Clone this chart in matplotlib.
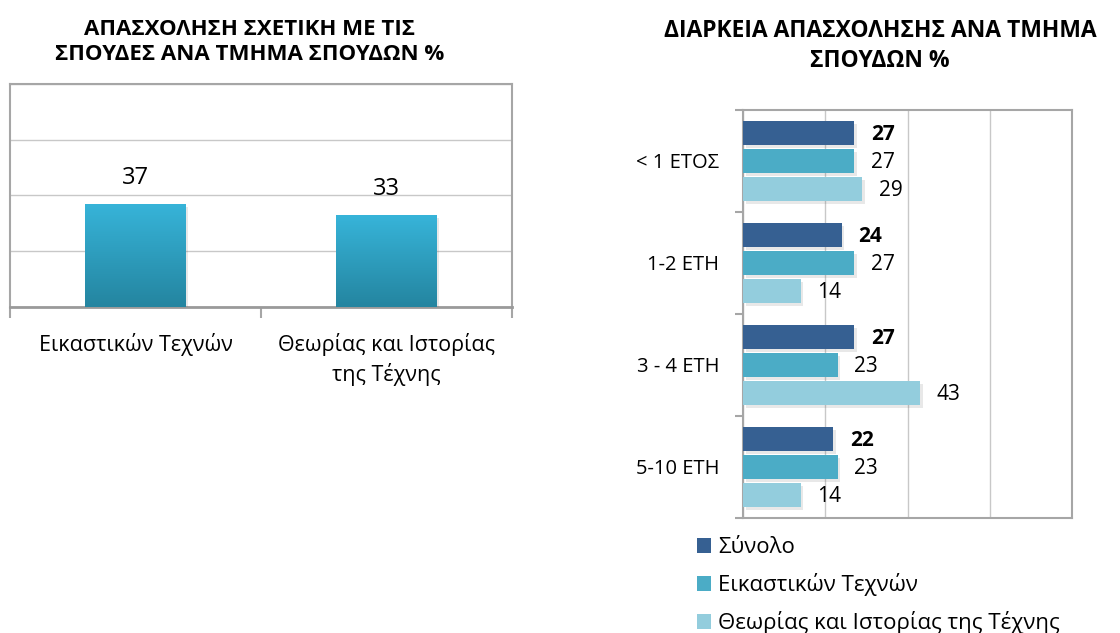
import matplotlib
matplotlib.use("Agg")
import matplotlib.pyplot as plt
import matplotlib.patheffects as pe
from matplotlib.colors import LinearSegmentedColormap
from matplotlib.patches import Patch
import numpy as np

plt.rcParams['font.family'] = ['Open Sans', 'DejaVu Sans']

# ---------------- data ----------------
left_title = "ΑΠΑΣΧΟΛΗΣΗ ΣΧΕΤΙΚΗ ΜΕ ΤΙΣ\nΣΠΟΥΔΕΣ ΑΝΑ ΤΜΗΜΑ ΣΠΟΥΔΩΝ %"
left_categories = ["Εικαστικών Τεχνών", "Θεωρίας και Ιστορίας\nτης Τέχνης"]
left_values = [37, 33]

right_title = "ΔΙΑΡΚΕΙΑ ΑΠΑΣΧΟΛΗΣΗΣ ΑΝΑ ΤΜΗΜΑ\nΣΠΟΥΔΩΝ %"
right_categories = ["< 1 ΕΤΟΣ", "1-2 ΕΤΗ", "3 - 4 ΕΤΗ", "5-10 ΕΤΗ"]
series_names = ["Σύνολο", "Εικαστικών Τεχνών", "Θεωρίας και Ιστορίας της Τέχνης"]
synolo = [27, 24, 27, 22]
eikastikon = [27, 27, 23, 23]
theorias = [29, 14, 43, 14]

series_colors = ["#366092", "#4BACC6", "#93CDDD"]

W, H = 1120, 633
fig = plt.figure(figsize=(W / 100, H / 100), dpi=100)

def ax_rect(x0, y0, x1, y1):
    return [x0 / W, 1 - y1 / H, (x1 - x0) / W, (y1 - y0) / H]

frame_col = "#A6A6A6"
grid_col = "#C8C8C8"
shadow = [pe.SimplePatchShadow(offset=(2, -2), alpha=0.15, shadow_rgbFace="#666666")]

# ---------------- left chart ----------------
axL = fig.add_axes(ax_rect(10, 84, 512, 307))
axL.set_xlim(-0.5, 1.5)
axL.set_ylim(0, 80)
axL.set_yticks([0, 20, 40, 60, 80])
axL.yaxis.grid(True, color=grid_col, linewidth=1.0)
axL.set_axisbelow(True)
axL.tick_params(axis='y', left=False, labelleft=False)
axL.set_xticks([-0.5, 0.5, 1.5])
axL.tick_params(axis='x', length=8, color=frame_col, width=1.5, labelbottom=False)
for s in axL.spines.values():
    s.set_color(frame_col)
    s.set_linewidth(1.5)
axL.spines['bottom'].set_color("#9A9A9A")
axL.spines['bottom'].set_linewidth(2)

grad = LinearSegmentedColormap.from_list("g", ["#2485A0", "#37B4D9"])
xs = np.arange(len(left_values))
bars = axL.bar(xs, left_values, width=0.4, color="none", edgecolor="none", zorder=3,
               path_effects=shadow)
for b, v in zip(bars, left_values):
    x0 = b.get_x()
    im = axL.imshow(np.linspace(0, 1, 100).reshape(-1, 1), cmap=grad, aspect='auto',
                    extent=[x0, x0 + b.get_width(), 0, v], origin='lower', zorder=3.5)
    im.set_clip_path(b)
    axL.annotate(str(v), (b.get_x() + b.get_width() / 2, v), xytext=(0, 10),
                 textcoords='offset points', ha='center', va='bottom', fontsize=17, color="#000000")
axL.set_xlim(-0.5, 1.5)
axL.set_ylim(0, 80)
for x, lab in zip(xs, left_categories):
    axL.text(x, -0.115, lab, transform=axL.get_xaxis_transform(), ha='center', va='top',
             fontsize=15.5, linespacing=1.4, color="#000000")

fig.text(250 / W, 1 - 42 / H, left_title, ha='center', va='center', fontsize=16,
         fontweight='bold', linespacing=1.3)

# ---------------- right chart ----------------
axR = fig.add_axes(ax_rect(743, 110, 1072, 518))
n = len(right_categories)
y = np.arange(n)
offs = [-0.275, 0.0, 0.275]
h = 0.235
for k, (vals, col) in enumerate(zip([synolo, eikastikon, theorias], series_colors)):
    bs = axR.barh(y + offs[k], vals, height=h, color=col, zorder=3, label=series_names[k],
                  path_effects=shadow + [pe.Normal()])
    for b, v in zip(bs, vals):
        axR.annotate(str(v), (v, b.get_y() + b.get_height() / 2), xytext=(12, -1),
                     textcoords='offset points', ha='left', va='center', fontsize=15,
                     fontweight='bold' if k == 0 else 'normal', color="#000000")
axR.set_xlim(0, 80)
axR.set_ylim(n - 0.5, -0.5)
axR.set_xticks([0, 20, 40, 60, 80])
axR.xaxis.grid(True, color=grid_col, linewidth=1.0)
axR.set_axisbelow(True)
axR.tick_params(axis='x', bottom=False, labelbottom=False)
axR.set_yticks(y)
axR.set_yticklabels(right_categories, fontsize=14.5)
axR.tick_params(axis='y', length=0, pad=17)
axR.set_yticks(np.arange(-0.5, n, 1.0), minor=True)
axR.tick_params(axis='y', which='minor', length=6, color=frame_col, width=1.5)
for s in axR.spines.values():
    s.set_color(frame_col)
    s.set_linewidth(1.5)

handles = [Patch(facecolor=c, edgecolor='none') for c in series_colors]
fig.legend(handles, series_names, loc='upper left', bbox_to_anchor=(697 / W, 1 - 537 / H),
           frameon=False, fontsize=16, handlelength=0.65, handleheight=0.65,
           handletextpad=0.3, labelspacing=0.68, borderaxespad=0, borderpad=0)

fig.text(880 / W, 1 - 46 / H, right_title, ha='center', va='center', fontsize=16.5,
         fontweight='bold', linespacing=1.3)

fig.savefig("out.png", dpi=100)
